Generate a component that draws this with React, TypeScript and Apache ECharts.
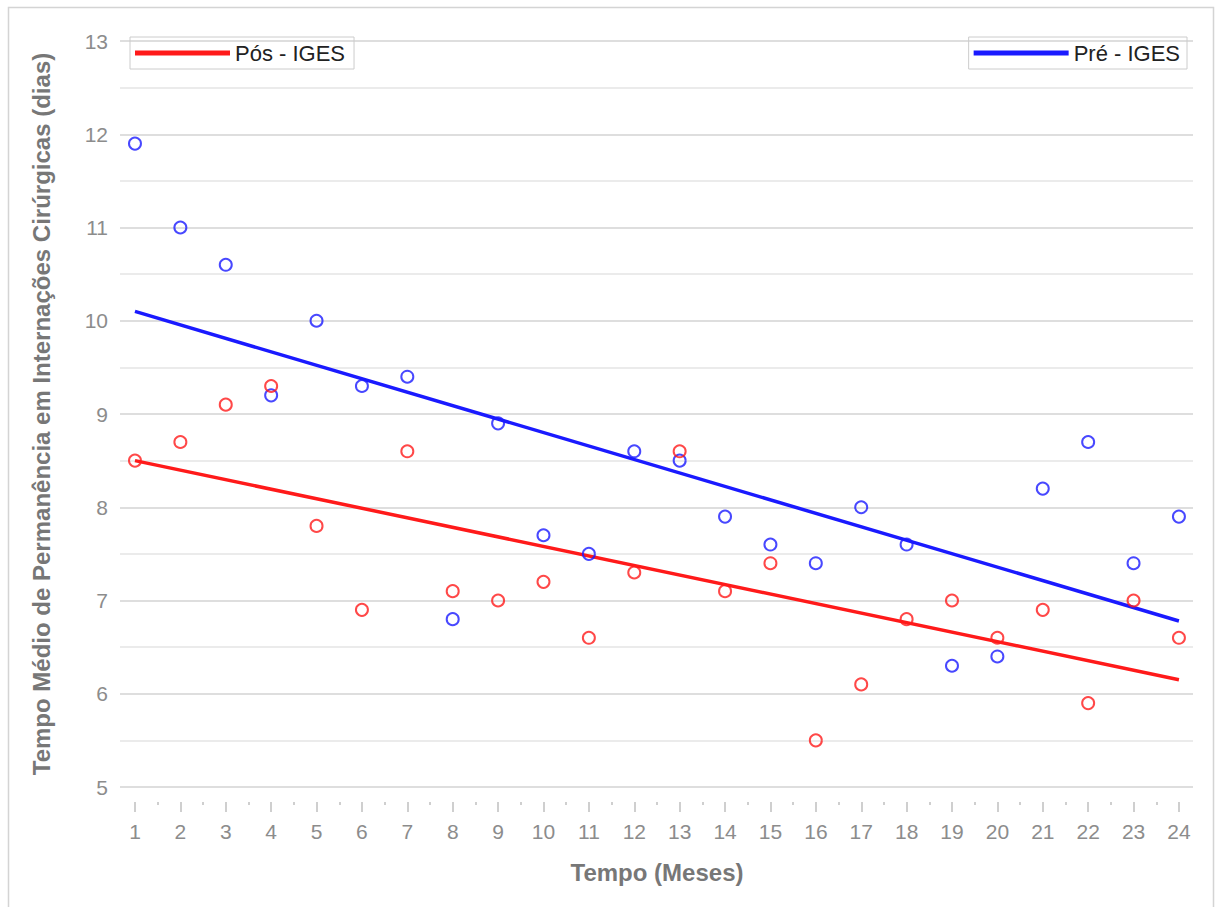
import React, { useEffect, useRef } from "react";
import * as echarts from "echarts";

const months = [1, 2, 3, 4, 5, 6, 7, 8, 9, 10, 11, 12, 13, 14, 15, 16, 17, 18, 19, 20, 21, 22, 23, 24];
const preIges = [11.9, 11.0, 10.6, 9.2, 10.0, 9.3, 9.4, 6.8, 8.9, 7.7, 7.5, 8.6, 8.5, 7.9, 7.6, 7.4, 8.0, 7.6, 6.3, 6.4, 8.2, 8.7, 7.4, 7.9];
const posIges = [8.5, 8.7, 9.1, 9.3, 7.8, 6.9, 8.6, 7.1, 7.0, 7.2, 6.6, 7.3, 8.6, 7.1, 7.4, 5.5, 6.1, 6.8, 7.0, 6.6, 6.9, 5.9, 7.0, 6.6];
const preTrendX = [1, 24];
const preTrendY = [10.1, 6.78];
const posTrendX = [1, 24];
const posTrendY = [8.5, 6.15];

const RED = "#ff1a1a";
const BLUE = "#1a1aff";

export default function App() {
  const ref = useRef<HTMLDivElement>(null);
  useEffect(() => {
    if (!ref.current) return;
    const chart = echarts.init(ref.current, undefined, { renderer: "svg" });
    const font = "Arial, 'Liberation Sans', sans-serif";
    chart.setOption({
      animation: false,
      backgroundColor: "#ffffff",
      textStyle: { fontFamily: font },
      graphic: [
        {
          type: "rect",
          shape: { x: 8.5, y: 7.5, width: 1205, height: 910 },
          style: { fill: "none", stroke: "#d4d4d4", lineWidth: 1.5 },
          silent: true,
        },
      ],
      legend: [
        {
          data: ["Pós - IGES"],
          left: 130,
          top: 37,
          orient: "horizontal",
          itemWidth: 95,
          itemHeight: 5,
          itemGap: 8,
          padding: [5, 9, 5, 5],
          borderColor: "#cccccc",
          borderWidth: 1,
          textStyle: { fontSize: 22, color: "#222", fontFamily: font },
          icon: "rect",
        },
        {
          data: ["Pré - IGES"],
          right: 28,
          top: 37,
          orient: "horizontal",
          itemWidth: 95,
          itemHeight: 5,
          padding: [5, 7, 5, 5],
          borderColor: "#cccccc",
          borderWidth: 1,
          textStyle: { fontSize: 22, color: "#222", fontFamily: font },
          icon: "rect",
        },
      ],
      grid: [
        { left: 120, right: 22, top: 41, bottom: 120 },
        { left: 135, right: 36, top: 41, bottom: 120 },
      ],
      xAxis: [
        {
          type: "value",
          gridIndex: 0,
          min: 0.67,
          max: 24.31,
          show: false,
        },
        {
          type: "value",
          gridIndex: 1,
          min: 1,
          max: 24,
          interval: 1,
          offset: 15,
          axisLine: { show: false },
          axisTick: { show: true, length: 10, lineStyle: { color: "#cfcfcf", width: 2 } },
          minorTick: { show: true, splitNumber: 2, length: 3, lineStyle: { color: "#cfcfcf", width: 2 } },
          splitLine: { show: false },
          axisLabel: { fontSize: 21, color: "#8c8c8c", margin: 19, fontFamily: font },
          name: "Tempo (Meses)",
          nameLocation: "middle",
          nameGap: 58,
          nameTextStyle: { fontSize: 24, fontWeight: "bold", color: "#777777", fontFamily: font },
        },
      ],
      yAxis: [
        {
          type: "value",
          gridIndex: 0,
          min: 5,
          max: 13,
          interval: 1,
          axisLine: { show: false },
          axisTick: { show: false },
          axisLabel: { fontSize: 21, color: "#8c8c8c", margin: 12, fontFamily: font },
          splitLine: { show: true, lineStyle: { color: "#dedede", width: 2 } },
          minorTick: { show: false, splitNumber: 2 },
          minorSplitLine: { show: true, lineStyle: { color: "#ebebeb", width: 2 } },
          name: "Tempo Médio de Permanência em Internações Cirúrgicas (dias)",
          nameLocation: "middle",
          nameGap: 67,
          nameTextStyle: { fontSize: 24, fontWeight: "bold", color: "#777777", fontFamily: font },
        },
        {
          type: "value",
          gridIndex: 1,
          min: 5,
          max: 13,
          show: false,
        },
      ],
      series: [
        {
          name: "Pré - IGES",
          type: "line",
          xAxisIndex: 0,
          yAxisIndex: 0,
          data: preTrendX.map((x, i) => [x, preTrendY[i]]),
          showSymbol: false,
          symbol: "none",
          lineStyle: { color: BLUE, width: 3.5 },
          itemStyle: { color: BLUE },
          z: 3,
        },
        {
          name: "Pós - IGES",
          type: "line",
          xAxisIndex: 0,
          yAxisIndex: 0,
          data: posTrendX.map((x, i) => [x, posTrendY[i]]),
          showSymbol: false,
          symbol: "none",
          lineStyle: { color: RED, width: 3.5 },
          itemStyle: { color: RED },
          z: 3,
        },
        {
          name: "preScatter",
          type: "scatter",
          xAxisIndex: 0,
          yAxisIndex: 0,
          data: months.map((m, i) => [m, preIges[i]]),
          symbol: "circle",
          symbolSize: 12,
          itemStyle: { color: "rgba(255,255,255,0)", borderColor: BLUE, borderWidth: 2 },
          z: 4,
        },
        {
          name: "posScatter",
          type: "scatter",
          xAxisIndex: 0,
          yAxisIndex: 0,
          data: months.map((m, i) => [m, posIges[i]]),
          symbol: "circle",
          symbolSize: 12,
          itemStyle: { color: "rgba(255,255,255,0)", borderColor: RED, borderWidth: 2 },
          z: 4,
        },
      ],
    });
    return () => chart.dispose();
  }, []);
  return (
    <div
      ref={ref}
      style={{ position: "fixed", left: 0, top: 0, width: 1215, height: 907 }}
    />
  );
}
